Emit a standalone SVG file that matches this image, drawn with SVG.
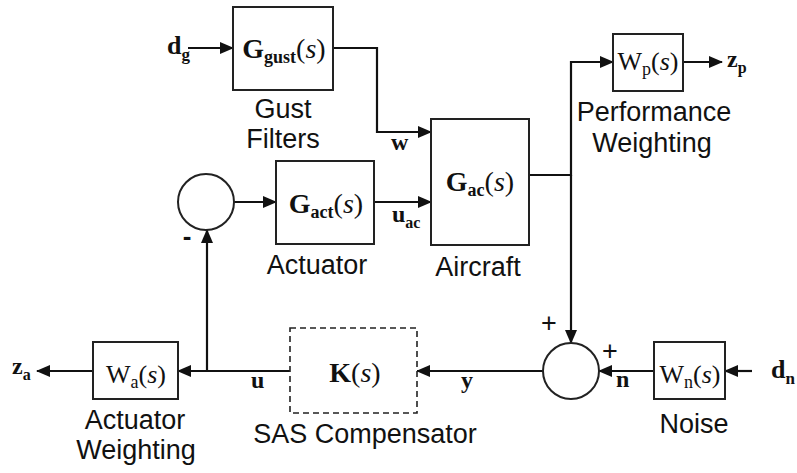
<svg xmlns="http://www.w3.org/2000/svg" width="797" height="473" viewBox="0 0 797 473">
<style>
.box{fill:#fff;stroke:#222;stroke-width:2}
.dash{fill:#fff;stroke:#222;stroke-width:1.6;stroke-dasharray:6,4}
.sum{fill:#fff;stroke:#222;stroke-width:2}
.wire{fill:none;stroke:#111;stroke-width:2.2}
.lbl{font-family:"Liberation Sans",Arial,sans-serif;font-size:27px;fill:#111;text-anchor:middle}
.m{font-family:"Liberation Serif","Times New Roman",serif;fill:#111;text-anchor:middle}
.sig{font-family:"Liberation Serif","Times New Roman",serif;font-weight:bold;fill:#111}
.pm{font-family:"Liberation Sans",Arial,sans-serif;fill:#111;text-anchor:middle}
.b{font-weight:bold}
.i{font-style:italic}
</style>
<defs>
<marker id="ah" markerUnits="userSpaceOnUse" markerWidth="14" markerHeight="12" refX="13" refY="6" orient="auto">
<path d="M0,0 L14,6 L0,12 Z" fill="#111"/>
</marker>
</defs>
<g id="connectors">
<path class="wire" d="M188,48 H233" marker-end="url(#ah)"/>
<path class="wire" d="M333,48 H377 V132 H431" marker-end="url(#ah)"/>
<path class="wire" d="M234,202 H276" marker-end="url(#ah)"/>
<path class="wire" d="M374,202 H431" marker-end="url(#ah)"/>
<path class="wire" d="M529,175 H571 V62 H613" marker-end="url(#ah)"/>
<path class="wire" d="M571,175 V343" marker-end="url(#ah)"/>
<path class="wire" d="M683,62 H722" marker-end="url(#ah)"/>
<path class="wire" d="M752,371 H725" marker-end="url(#ah)"/>
<path class="wire" d="M654,371 H599" marker-end="url(#ah)"/>
<path class="wire" d="M543,371 H417" marker-end="url(#ah)"/>
<path class="wire" d="M290,371 H178" marker-end="url(#ah)"/>
<path class="wire" d="M207,371 V230" marker-end="url(#ah)"/>
<path class="wire" d="M93,371 H37" marker-end="url(#ah)"/>
</g>
<g id="gust">
<rect class="box" x="233" y="7" width="100" height="83"/>
<text class="m" x="284" y="58" font-size="28"><tspan class="b">G</tspan><tspan class="b" font-size="18" dy="5">gust</tspan><tspan dy="-5">(</tspan><tspan class="i">s</tspan>)</text>
<text class="lbl" x="283" y="118">Gust</text>
<text class="lbl" x="283" y="148">Filters</text>
</g>
<g id="sum1">
<circle class="sum" cx="206" cy="202" r="28"/>
<text class="pm" x="187" y="245" font-size="26" font-weight="bold">-</text>
</g>
<g id="actuator">
<rect class="box" x="276" y="161" width="98" height="83"/>
<text class="m" x="326" y="213" font-size="28"><tspan class="b">G</tspan><tspan class="b" font-size="18" dy="5">act</tspan><tspan dy="-5">(</tspan><tspan class="i">s</tspan>)</text>
<text class="lbl" x="317" y="274">Actuator</text>
</g>
<g id="aircraft">
<rect class="box" x="431" y="119" width="98" height="126"/>
<text class="m" x="480" y="191" font-size="28"><tspan class="b">G</tspan><tspan class="b" font-size="18" dy="5">ac</tspan><tspan dy="-5">(</tspan><tspan class="i">s</tspan>)</text>
<text class="lbl" x="478" y="276">Aircraft</text>
</g>
<g id="perf">
<rect class="box" x="613" y="34" width="70" height="57"/>
<text class="m" x="648" y="70" font-size="26">W<tspan font-size="18" dy="5">p</tspan><tspan dy="-5">(</tspan><tspan class="i">s</tspan>)</text>
<text class="lbl" x="654" y="121">Performance</text>
<text class="lbl" x="652" y="152">Weighting</text>
</g>
<g id="sum2">
<circle class="sum" cx="571" cy="371" r="28"/>
<text class="pm" x="549" y="332" font-size="27">+</text>
<text class="pm" x="610" y="360" font-size="27">+</text>
</g>
<g id="noise">
<rect class="box" x="654" y="342" width="71" height="57"/>
<text class="m" x="690" y="383" font-size="26">W<tspan font-size="18" dy="5">n</tspan><tspan dy="-5">(</tspan><tspan class="i">s</tspan>)</text>
<text class="lbl" x="694" y="433">Noise</text>
</g>
<g id="sas">
<rect class="dash" x="290" y="328" width="127" height="85"/>
<text class="m" x="355" y="382" font-size="28"><tspan class="b">K</tspan>(<tspan class="i">s</tspan>)</text>
<text class="lbl" x="365" y="443">SAS Compensator</text>
</g>
<g id="actw">
<rect class="box" x="93" y="342" width="85" height="57"/>
<text class="m" x="136" y="383" font-size="26">W<tspan font-size="18" dy="5">a</tspan><tspan dy="-5">(</tspan><tspan class="i">s</tspan>)</text>
<text class="lbl" x="135" y="429">Actuator</text>
<text class="lbl" x="136" y="459">Weighting</text>
</g>
<g id="signals">
<text class="sig" x="167" y="54" font-size="26">d<tspan font-size="17" dy="6">g</tspan></text>
<text class="sig" x="391" y="150" font-size="24">w</text>
<text class="sig" x="392" y="222" font-size="24">u<tspan font-size="16" dy="6">ac</tspan></text>
<text class="sig" x="727" y="67" font-size="24">z<tspan font-size="16" dy="6">p</tspan></text>
<text class="sig" x="12" y="374" font-size="24">z<tspan font-size="16" dy="6">a</tspan></text>
<text class="sig" x="251" y="388" font-size="24">u</text>
<text class="sig" x="461" y="388" font-size="24">y</text>
<text class="sig" x="616" y="387" font-size="24">n</text>
<text class="sig" x="771" y="378" font-size="26">d<tspan font-size="17" dy="6">n</tspan></text>
</g>
</svg>
